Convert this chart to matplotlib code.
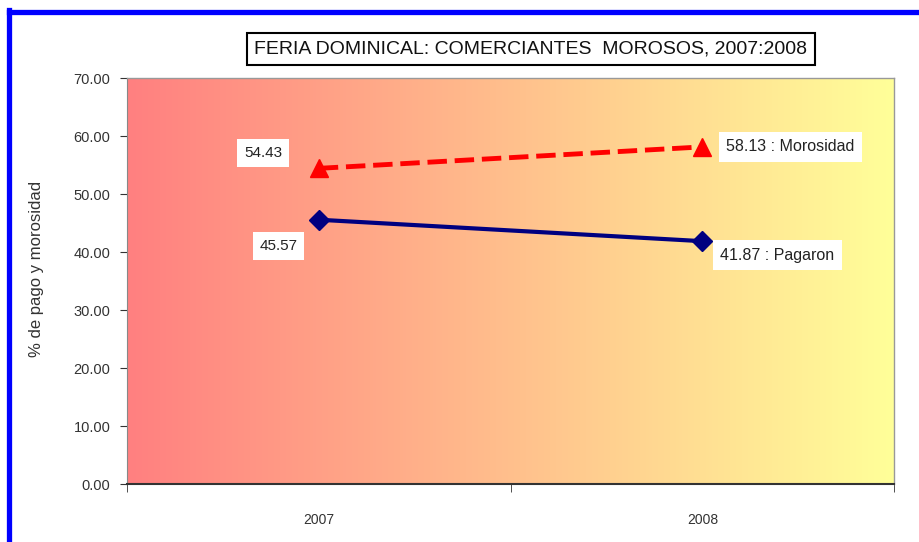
import numpy as np
import matplotlib
matplotlib.use('Agg')
import matplotlib.pyplot as plt
from matplotlib.lines import Line2D

plt.rcParams['font.family'] = ['Liberation Sans', 'DejaVu Sans']

# data
years = ['2007', '2008']
morosidad = [54.43, 58.13]
pagaron = [45.57, 41.87]
title = 'FERIA DOMINICAL: COMERCIANTES  MOROSOS, 2007:2008'
ylabel = '% de pago y morosidad'
yticks = [0, 10, 20, 30, 40, 50, 60, 70]

fig = plt.figure(figsize=(9.2, 5.42), dpi=100)
ax = fig.add_axes([0.138, 0.107, 0.834, 0.749])

# background gradient red -> yellow
c_left = np.array([255, 128, 128]) / 255
c_right = np.array([255, 255, 153]) / 255
t = np.linspace(0, 1, 256)
grad = (c_left[None, :] * (1 - t[:, None]) + c_right[None, :] * t[:, None])[None, :, :]
ax.imshow(grad, extent=[0, 1, 0, 1], transform=ax.transAxes, aspect='auto', zorder=0)

x = np.arange(len(years))
ax.plot(x, morosidad, color='#FF0000', lw=3.5, ls=(0, (4, 1.6)), marker='^',
        markersize=13, zorder=3)
ax.plot(x, pagaron, color='#000080', lw=3, marker='D', markersize=10, zorder=3)

ax.set_xlim(-0.5, len(years) - 0.5)
ax.set_ylim(0, 70)
ax.set_xticks(x)
ax.set_xticklabels(years)
ax.set_xticks([-0.5, 0.5, 1.5], minor=True)
ax.tick_params(axis='x', which='major', length=0, pad=21, labelsize=10, labelcolor='#333333')
ax.tick_params(axis='x', which='minor', length=6, direction='out', color='#333333')
ax.set_yticks(yticks)
ax.set_yticklabels([f'{v:.2f}' for v in yticks])
ax.tick_params(axis='y', length=5, direction='out', labelsize=10.5, labelcolor='#333333',
               color='#333333', pad=7)
ax.set_ylabel(ylabel, fontsize=12, color='#333333')
ax.yaxis.set_label_coords(-0.108, 0.53)

for s in ['top', 'right']:
    ax.spines[s].set_color('#999999')
    ax.spines[s].set_linewidth(1)
ax.spines['left'].set_color('#888888')
ax.spines['bottom'].set_color('#333333')
ax.spines['bottom'].set_linewidth(1.5)

box = dict(boxstyle='square,pad=0.45', fc='white', ec='none')
ax.annotate(f'{morosidad[0]:.2f}', (x[0], morosidad[0]), xytext=(-40, 11),
            textcoords='offset points', ha='center', va='center', fontsize=11,
            color='#222222', bbox=box, zorder=4)
ax.annotate(f'{pagaron[0]:.2f}', (x[0], pagaron[0]), xytext=(-29, -19),
            textcoords='offset points', ha='center', va='center', fontsize=11,
            color='#222222', bbox=box, zorder=4)
ax.annotate(f'{morosidad[1]:.2f} : Morosidad', (x[1], morosidad[1]), xytext=(17, 0),
            textcoords='offset points', ha='left', va='center', fontsize=11.5,
            color='#222222', bbox=box, zorder=4)
ax.annotate(f'{pagaron[1]:.2f} : Pagaron', (x[1], pagaron[1]), xytext=(13, -10),
            textcoords='offset points', ha='left', va='center', fontsize=11.5,
            color='#222222', bbox=box, zorder=4)

fig.text(531 / 920, 1 - 49 / 542, title, ha='center', va='center', fontsize=14,
         color='#111111',
         bbox=dict(boxstyle='square,pad=0.4', fc='white', ec='black', lw=1.5))

# blue frame (top and left edges visible)
fig.add_artist(Line2D([9 / 920, 1], [1 - 12 / 542, 1 - 12 / 542], color='#0000FF', lw=3.8,
                      transform=fig.transFigure))
fig.add_artist(Line2D([9 / 920, 9 / 920], [0, 1 - 10 / 542], color='#0000FF', lw=3.8,
                      transform=fig.transFigure))

fig.savefig('out.png', dpi=100)
